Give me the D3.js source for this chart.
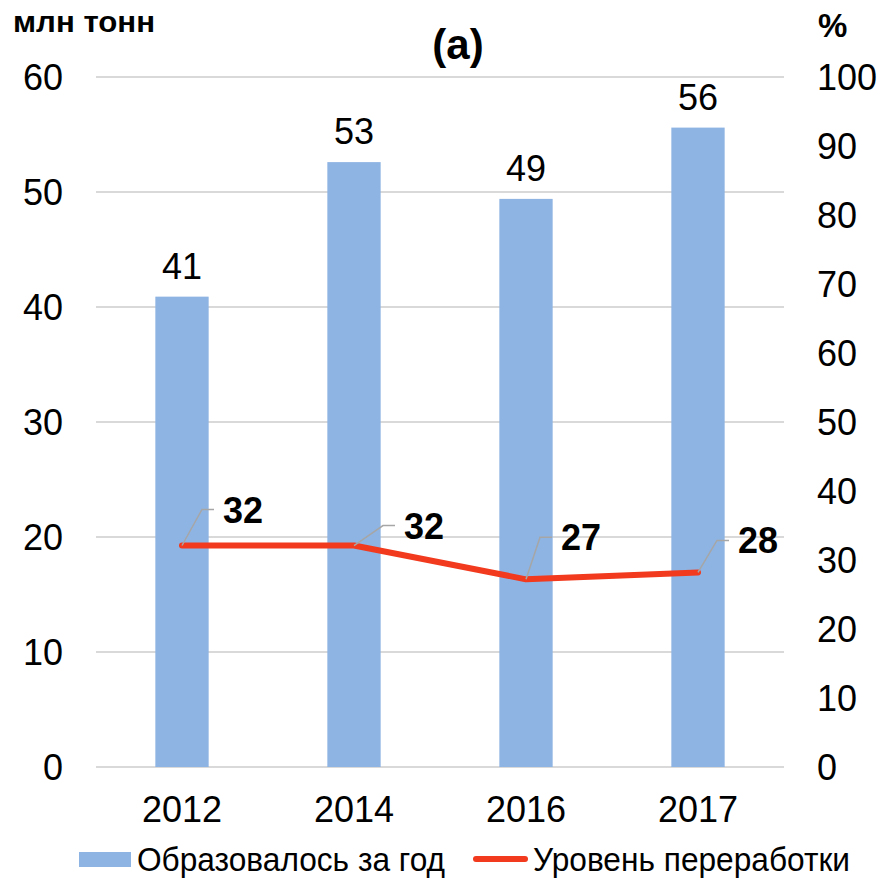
<!DOCTYPE html>
<html>
<head>
<meta charset="utf-8">
<script src="https://cdn.jsdelivr.net/npm/d3@7"></script>
<style>
  html, body { margin: 0; padding: 0; background: #fff; }
  text { font-family: "Liberation Sans", Arial, sans-serif; fill: #000; }
</style>
</head>
<body>
<div id="chart"></div>
<script>
// data
var years      = ["2012", "2014", "2016", "2017"];
var formed     = [40.9, 52.6, 49.4, 55.6];     // млн тонн
var recycled   = [32.1, 32.1, 27.2, 28.2];     // %
var leftTicks  = [0, 10, 20, 30, 40, 50, 60];
var rightTicks = [0, 10, 20, 30, 40, 50, 60, 70, 80, 90, 100];
var seriesNames = ["Образовалось за год", "Уровень переработки"];

// where Excel put the line labels (leader elbow relative to point)
var labelNudge = [[20, -36], [29, -20], [14, -42], [19, -32]];

var W = 883, H = 879;
var barColor = "#8EB4E3";
var lineColor = "#F13A1E";
var gridColor = "#D9D9D9";

var svg = d3.select("#chart").append("svg")
    .attr("width", W)
    .attr("height", H);

var x = d3.scaleBand()
    .domain(years)
    .range([96, 784]);

var yL = d3.scaleLinear().domain([0, 60]).range([767, 77]);
var yR = d3.scaleLinear().domain([0, 100]).range([767, 77]);

var barW = x.bandwidth() * 0.31;
var cx = function(d) { return x(d) + x.bandwidth() / 2; };

// gridlines
svg.append("g")
    .selectAll("line")
    .data(leftTicks)
    .join("line")
    .attr("x1", 96).attr("x2", 784)
    .attr("y1", function(d) { return yL(d); })
    .attr("y2", function(d) { return yL(d); })
    .attr("stroke", gridColor)
    .attr("stroke-width", 2);

// left axis
var leftAxis = svg.append("g")
    .attr("transform", "translate(63,0)")
    .call(d3.axisLeft(yL).tickValues(leftTicks).tickSize(0).tickPadding(0));
leftAxis.select(".domain").remove();
leftAxis.selectAll("text")
    .attr("font-size", 36)
    .attr("font-family", "Liberation Sans, Arial, sans-serif")
    .attr("fill", "#000")
    .attr("dy", "0.36em");

// right axis
var rightAxis = svg.append("g")
    .attr("transform", "translate(817,0)")
    .call(d3.axisRight(yR).tickValues(rightTicks).tickSize(0).tickPadding(0));
rightAxis.select(".domain").remove();
rightAxis.selectAll("text")
    .attr("font-size", 36)
    .attr("font-family", "Liberation Sans, Arial, sans-serif")
    .attr("fill", "#000")
    .attr("dy", "0.36em");

// x axis
var xAxis = svg.append("g")
    .attr("transform", "translate(0,767)")
    .call(d3.axisBottom(x).tickSize(0).tickPadding(0));
xAxis.select(".domain").remove();
xAxis.selectAll("text")
    .attr("font-size", 36)
    .attr("font-family", "Liberation Sans, Arial, sans-serif")
    .attr("fill", "#000")
    .attr("y", 55)
    .attr("dy", 0);

// bars
svg.append("g")
    .selectAll("rect")
    .data(formed)
    .join("rect")
    .attr("x", function(d, i) { return cx(years[i]) - barW / 2; })
    .attr("y", function(d) { return yL(d); })
    .attr("width", barW)
    .attr("height", function(d) { return yL(0) - yL(d); })
    .attr("fill", barColor);

// bar labels
svg.append("g")
    .selectAll("text")
    .data(formed)
    .join("text")
    .attr("x", function(d, i) { return cx(years[i]); })
    .attr("y", function(d) { return yL(d) - 18; })
    .attr("text-anchor", "middle")
    .attr("font-size", 36)
    .text(function(d) { return Math.round(d); });

// recycling line
var line = d3.line()
    .x(function(d, i) { return cx(years[i]); })
    .y(function(d) { return yR(d); });

svg.append("path")
    .datum(recycled)
    .attr("d", line)
    .attr("fill", "none")
    .attr("stroke", lineColor)
    .attr("stroke-width", 6)
    .attr("stroke-linecap", "round")
    .attr("stroke-linejoin", "round");

// leader lines + line labels
var lbl = svg.append("g");
recycled.forEach(function(d, i) {
    var px = cx(years[i]), py = yR(d);
    var ex = px + labelNudge[i][0], ey = py + labelNudge[i][1];
    lbl.append("polyline")
        .attr("points", [[px, py], [ex, ey], [ex + 12, ey]].join(" "))
        .attr("fill", "none")
        .attr("stroke", "#A6A6A6")
        .attr("stroke-width", 1.5);
    lbl.append("text")
        .attr("x", ex + 21)
        .attr("y", ey + 13)
        .attr("font-size", 36)
        .attr("font-weight", "bold")
        .text(Math.round(d));
});

// titles
svg.append("text")
    .attr("x", 13).attr("y", 32)
    .attr("font-size", 30)
    .attr("font-weight", "bold")
    .attr("textLength", 142)
    .attr("lengthAdjust", "spacingAndGlyphs")
    .text("млн тонн");

svg.append("text")
    .attr("x", 458).attr("y", 59)
    .attr("text-anchor", "middle")
    .attr("font-size", 42)
    .attr("font-weight", "bold")
    .text("(a)");

svg.append("text")
    .attr("x", 818).attr("y", 37)
    .attr("font-size", 33)
    .attr("font-weight", "bold")
    .text("%");

// legend (pulled up a touch so descenders stay inside the frame)
var leg = svg.append("g");
leg.append("rect")
    .attr("x", 79).attr("y", 852)
    .attr("width", 52).attr("height", 15)
    .attr("fill", barColor);
leg.append("text")
    .attr("x", 137).attr("y", 871)
    .attr("font-size", 34)
    .attr("textLength", 308)
    .attr("lengthAdjust", "spacingAndGlyphs")
    .text(seriesNames[0]);
leg.append("line")
    .attr("x1", 476).attr("x2", 525)
    .attr("y1", 859).attr("y2", 859)
    .attr("stroke", lineColor)
    .attr("stroke-width", 6)
    .attr("stroke-linecap", "round");
leg.append("text")
    .attr("x", 533).attr("y", 871)
    .attr("font-size", 34)
    .attr("textLength", 317)
    .attr("lengthAdjust", "spacingAndGlyphs")
    .text(seriesNames[1]);
</script>
</body>
</html>
